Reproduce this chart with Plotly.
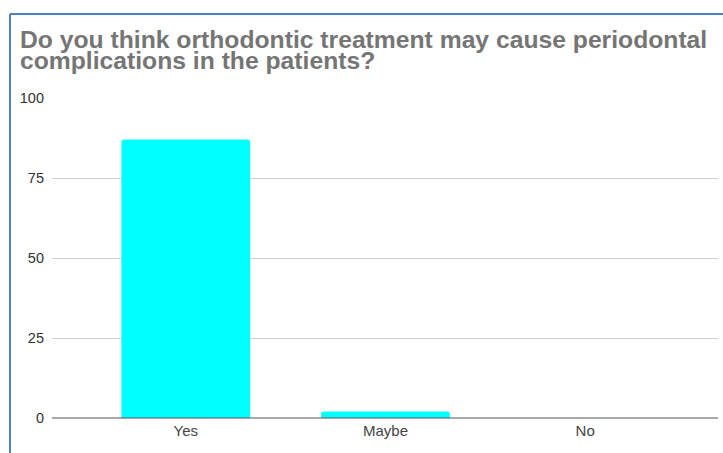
import plotly.graph_objects as go

categories = ["Yes", "Maybe", "No"]
values = [87, 2, 0]
y_ticks = [0, 25, 50, 75, 100]
title_lines = ["Do you think orthodontic treatment may cause periodontal",
               "complications in the patients?"]

W, H = 723, 453
L, R, T, B = 52, 5, 98, 35
pw, ph = W - L - R, H - T - B

def px_x(px):
    return (px - L) / pw

def px_y(py):
    return (H - B - py) / ph

fig = go.Figure()
fig.add_trace(go.Bar(
    x=[0, 1, 2], y=values, width=0.645,
    marker=dict(color="#00ffff", line=dict(width=0), cornerradius=3),
    hoverinfo="skip",
))

fig.update_layout(
    width=W, height=H,
    margin=dict(l=L, r=R, t=T, b=B),
    paper_bgcolor="white", plot_bgcolor="white",
    showlegend=False,
    font=dict(family="Liberation Sans, Arial, sans-serif", size=12, color="#444444"),
    xaxis=dict(
        range=[-0.67, 2.665], tickmode="array", tickvals=[0, 1, 2], ticktext=categories,
        showgrid=False, zeroline=False, showline=False, ticks="",
        tickfont=dict(size=15, color="#444444"),
        ticklabelstandoff=2,
        fixedrange=True,
    ),
    yaxis=dict(
        range=[0, 100], tickmode="array", tickvals=y_ticks,
        showgrid=True, gridcolor="#d0d0d0", gridwidth=1,
        zeroline=False, showline=False, ticks="",
        tickfont=dict(size=14.5, color="#333333"),
        ticklabelstandoff=7,
        fixedrange=True,
    ),
)

# baseline
fig.add_shape(type="line", xref="paper", yref="paper",
              x0=0, x1=1, y0=0, y1=0, line=dict(color="#555555", width=1.2))

# outer border (top and left)
fig.add_shape(type="line", xref="paper", yref="paper",
              x0=px_x(10), x1=px_x(730), y0=px_y(14), y1=px_y(14),
              line=dict(color="#4f81c7", width=2))
fig.add_shape(type="line", xref="paper", yref="paper",
              x0=px_x(10), x1=px_x(10), y0=px_y(14), y1=px_y(460),
              line=dict(color="#4f81c7", width=2))

# title lines
for line, yc in zip(title_lines, [39, 61]):
    fig.add_annotation(
        text="<b>" + line + "</b>", xref="paper", yref="paper",
        x=px_x(18), y=px_y(yc), xanchor="left", yanchor="middle",
        showarrow=False,
        font=dict(family="Liberation Sans, Arial, sans-serif", size=24.7, color="#757575"),
    )

fig.write_html("out.html", config={"displayModeBar": False},
               post_script="document.body.style.margin='0';")
